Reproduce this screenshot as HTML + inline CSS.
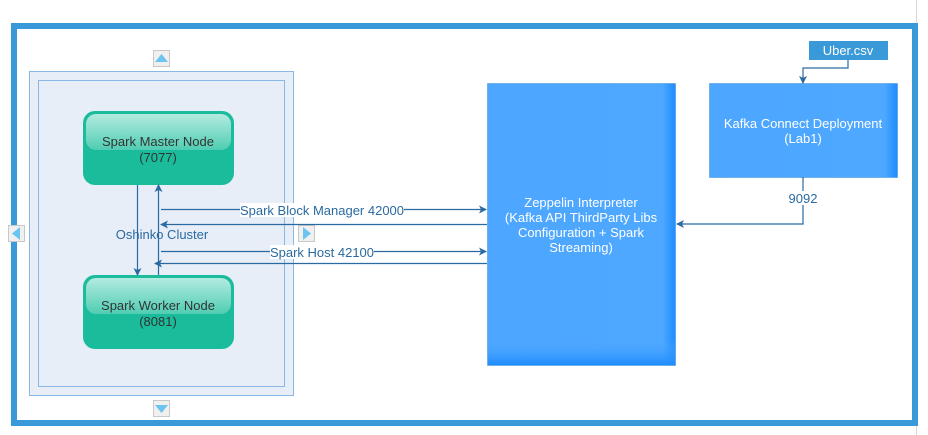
<!DOCTYPE html>
<html><head><meta charset="utf-8"><style>
html,body{margin:0;padding:0;background:#fff;}
svg{display:block;font-family:"Liberation Sans",sans-serif;}
</style></head><body>
<svg width="928" height="435" viewBox="0 0 928 435" xmlns="http://www.w3.org/2000/svg">
<defs>
<linearGradient id="gz" x1="0" y1="0" x2="1" y2="0">
<stop offset="0" stop-color="#4da6ff"/><stop offset="0.93" stop-color="#4ea8ff"/><stop offset="1" stop-color="#1e8cff"/>
</linearGradient>
<linearGradient id="gb" x1="0" y1="0" x2="0" y2="1">
<stop offset="0" stop-color="#4ea8ff" stop-opacity="0"/><stop offset="1" stop-color="#1e8cff"/>
</linearGradient>
<linearGradient id="gh" x1="0" y1="0" x2="0" y2="1">
<stop offset="0" stop-color="#b3ebe0"/><stop offset="1" stop-color="#4fcdb2"/>
</linearGradient>
<marker id="a" markerWidth="8" markerHeight="8" refX="7" refY="4" orient="auto" markerUnits="userSpaceOnUse">
<path d="M0,0 L8,4 L0,8 L2,4 z" fill="#2a6aa0"/>
</marker>
</defs>
<line x1="916.5" y1="0" x2="916.5" y2="435" stroke="#d8d8d8"/>
<rect x="14" y="26" width="901" height="397" fill="#fff" stroke="#3a9ad9" stroke-width="6"/>
<!-- cluster -->
<rect x="29.5" y="71.5" width="264" height="324" fill="#e8eef8" stroke="#8ab8e6"/>
<rect x="38.5" y="80.5" width="246" height="306" fill="none" stroke="#8ab8e6"/>
<text x="162" y="239" font-size="13" fill="#2a6aa0" text-anchor="middle">Oshinko Cluster</text>
<!-- buttons -->
<g stroke="#c8c8c8" fill="#f0f0f0">
<rect x="153.5" y="50.5" width="16" height="16"/>
<rect x="153.5" y="400.5" width="16" height="16"/>
<rect x="8.5" y="225.5" width="16" height="16"/>
<rect x="298.5" y="225.5" width="16" height="16"/>
</g>
<g fill="#6cc4f0">
<path d="M155,62 L161.5,54 L168,62 z"/>
<path d="M155,405 L161.5,413 L168,405 z"/>
<path d="M20,227 L12,233.5 L20,240 z"/>
<path d="M303,227 L311,233.5 L303,240 z"/>
</g>
<!-- nodes -->
<g>
<rect x="83" y="111" width="151" height="74" rx="12" fill="#1abc9c"/>
<rect x="86" y="114" width="145" height="36" rx="10" fill="url(#gh)"/>
<text x="158" y="146" font-size="13" fill="#333" text-anchor="middle">Spark Master Node</text>
<text x="158" y="162" font-size="13" fill="#333" text-anchor="middle">(7077)</text>
</g>
<g>
<rect x="83" y="275" width="151" height="74" rx="12" fill="#1abc9c"/>
<rect x="86" y="278" width="145" height="36" rx="10" fill="url(#gh)"/>
<text x="158" y="310" font-size="13" fill="#333" text-anchor="middle">Spark Worker Node</text>
<text x="158" y="326" font-size="13" fill="#333" text-anchor="middle">(8081)</text>
</g>
<!-- zeppelin -->
<rect x="487.5" y="83.5" width="188" height="282" fill="url(#gz)" stroke="#3a8fd0" stroke-width="0.5"/>
<rect x="488" y="340" width="187" height="25" fill="url(#gb)"/>
<g font-size="13" fill="#fff" text-anchor="middle">
<text x="581" y="207">Zeppelin Interpreter</text>
<text x="581" y="222">(Kafka API ThirdParty Libs</text>
<text x="581" y="237">Configuration + Spark</text>
<text x="581" y="252">Streaming)</text>
</g>
<!-- kafka -->
<rect x="709.5" y="83.5" width="188" height="94" fill="url(#gz)" stroke="#3a8fd0" stroke-width="0.5"/>
<text x="803" y="128" font-size="13" fill="#fff" text-anchor="middle">Kafka Connect Deployment</text>
<text x="803" y="143" font-size="13" fill="#fff" text-anchor="middle">(Lab1)</text>
<!-- uber -->
<rect x="809" y="41" width="79" height="19" fill="#3a9ad9"/>
<text x="848" y="55" font-size="13" fill="#fff" text-anchor="middle">Uber.csv</text>
<!-- connectors -->
<g stroke="#2a6aa0" stroke-width="1.2" fill="none">
<path d="M848,60 V68 H803 V83" marker-end="url(#a)"/>
<path d="M803,177 V224 H677" marker-end="url(#a)"/>
<path d="M137.5,185 V275" marker-end="url(#a)"/>
<path d="M158.5,275 V185" marker-end="url(#a)"/>
<path d="M161,209.5 H486" marker-end="url(#a)"/>
<path d="M487,224.5 H161" marker-end="url(#a)"/>
<path d="M161,251.5 H486" marker-end="url(#a)"/>
<path d="M487,263.5 H155" marker-end="url(#a)"/>
</g>
<rect x="240" y="203" width="164" height="14" fill="#fff"/>
<text x="322" y="215" font-size="13" fill="#2a6aa0" text-anchor="middle">Spark Block Manager 42000</text>
<rect x="270" y="245" width="104" height="14" fill="#fff"/>
<text x="322" y="257" font-size="13" fill="#2a6aa0" text-anchor="middle">Spark Host 42100</text>
<rect x="787" y="191" width="32" height="14" fill="#fff"/>
<text x="803" y="203" font-size="13" fill="#2a6aa0" text-anchor="middle">9092</text>
</svg>
</body></html>
